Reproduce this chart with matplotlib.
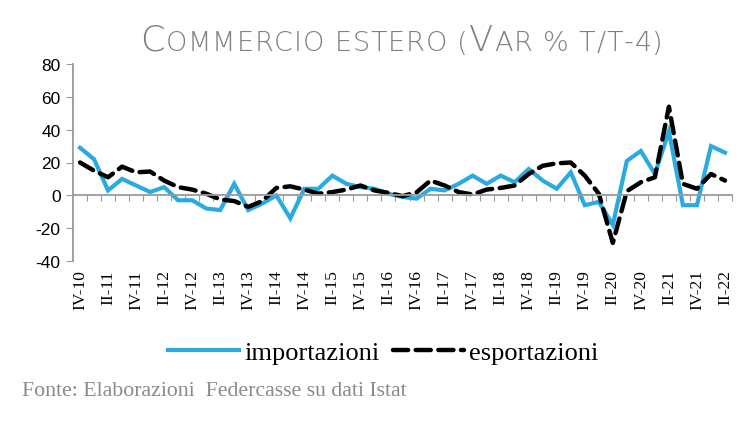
import matplotlib
matplotlib.use("Agg")
import matplotlib.pyplot as plt
from matplotlib.transforms import IdentityTransform

plt.rcParams["axes.unicode_minus"] = False

# quarters IV-10 .. II-22
quarters = ["IV-10"]
for yy in range(11, 23):
    for q in ["I", "II", "III", "IV"]:
        quarters.append(q + "-" + str(yy))
quarters = quarters[:47]

# values (var % t/t-4)
importazioni = [29, 22, 3, 10, 6, 2, 5, -3, -3, -8, -9, 7, -9, -5, 0, -14,
                4, 4, 12, 7, 5, 4, 1, -1, -2, 4, 3, 7, 12, 7, 12, 8, 16, 9,
                4, 14, -6, -4, -18, 21, 27, 13, 39, -6, -6, 30, 26]
esportazioni = [20, 15, 11, 17.5, 14, 14.5, 9, 5, 3.5, 1, -2.5, -3.5, -7,
                -3.5, 4.5, 5.5, 3.5, 1, 2, 3.5, 6, 3, 1.5, -0.5, 1.8, 9, 6,
                2, 0.5, 3.5, 4.5, 6, 13, 18, 19.5, 20, 12, 1, -29, 2.5, 8,
                11, 54, 7, 4, 13, 9]

x_labels = quarters[::2]
y_ticks = [-40, -20, 0, 20, 40, 60, 80]

blue = "#29abe2"
grey = "#9a9a9a"

fig = plt.figure(figsize=(7.42, 4.31), dpi=100)
ax = fig.add_axes([73 / 742, 1 - 262 / 431, 659 / 742, 197 / 431])

x = list(range(len(quarters)))
ax.plot(x, importazioni, color=blue, lw=3, solid_joinstyle="miter",
        label="importazioni")
ax.plot(x, esportazioni, color="black", lw=3.2, dashes=(3.4, 1.7),
        dash_capstyle="round", label="esportazioni")

ax.set_xlim(-0.5, len(quarters) - 0.5)
ax.set_ylim(-40, 80)

# spines: only the left one and a zero line
for s in ["top", "right"]:
    ax.spines[s].set_visible(False)
ax.spines["left"].set_color(grey)
ax.spines["left"].set_linewidth(1.3)
ax.spines["bottom"].set_position(("data", 0))
ax.spines["bottom"].set_color(grey)
ax.spines["bottom"].set_linewidth(1.3)

ax.set_yticks(y_ticks)
ax.tick_params(axis="y", direction="out", length=5, color=grey,
               labelsize=12.5, pad=4)
for lab in ax.get_yticklabels():
    lab.set_fontfamily("Liberation Sans")

# tick marks between categories on the zero line
ax.set_xticks([i + 0.5 for i in range(len(quarters))])
ax.tick_params(axis="x", direction="out", length=4, color=grey,
               labelbottom=False)

# category labels at the bottom of the plot
sec = ax.secondary_xaxis("bottom")
sec.set_xticks(x[::2], x_labels, rotation=90)
sec.tick_params(length=0, pad=6, labelsize=12.5)
sec.spines["bottom"].set_visible(False)
for lab in sec.get_xticklabels():
    lab.set_fontfamily("Liberation Serif")

fig.legend(loc="center", bbox_to_anchor=(383 / 742, 1 - 353 / 431),
           ncol=2, frameon=False, handlelength=2.7, handletextpad=0.2,
           columnspacing=0.5, prop={"family": "Liberation Serif", "size": 19})

fig.text(22 / 742, 1 - 392 / 431, "Fonte: Elaborazioni  Federcasse su dati Istat",
         family="Liberation Serif", fontsize=15.7, color="#8a8a8a",
         va="center", ha="left")

# small-caps title: one text per letter, spacing fitted to the reference width
renderer = fig.canvas.get_renderer()
pieces = [("C", 25.5), ("OMMERCIO ESTERO (", 19.5), ("V", 25.5), ("AR % T/T-4)", 19.5)]
title_left, title_right, baseline = 140, 663, 431 - 51


def draw_title(track):
    arts = []
    px = title_left
    for txt, size in pieces:
        for ch in txt:
            t = fig.text(px, baseline, ch, transform=IdentityTransform(),
                         fontsize=size, family="DejaVu Sans", weight=200,
                         color="#7f7f7f", va="baseline", ha="left")
            px = t.get_window_extent(renderer).x1 + track
            arts.append(t)
    return arts, px - track


arts, right = draw_title(0.0)
n_gaps = len(arts) - 1
track = (title_right - right) / n_gaps
for a in arts:
    a.remove()
draw_title(track)

fig.savefig("out.png", dpi=100)
